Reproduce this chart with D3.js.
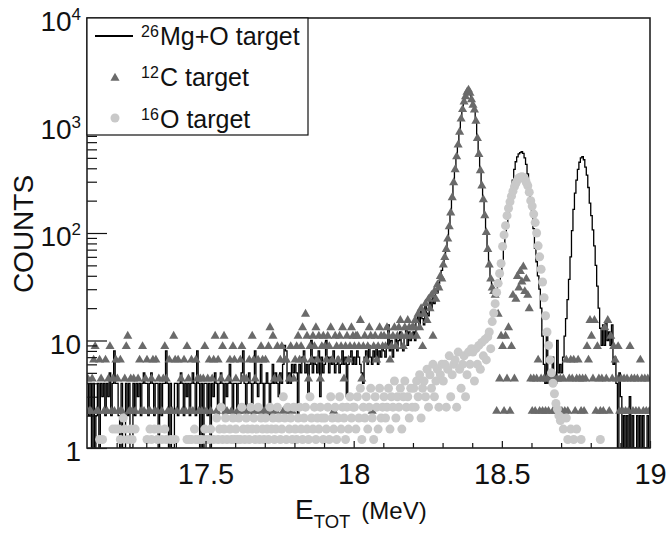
<!DOCTYPE html>
<html>
<head>
<meta charset="utf-8">
<script src="https://cdn.jsdelivr.net/npm/d3@7"></script>
<style>
  body { margin: 0; background: #fff; }
  text { font-family: "Liberation Sans", Arial, sans-serif; fill: #111; }
</style>
</head>
<body>
<div id="chart"></div>
<script>
// histogram binning (MeV)
var binStart = 17.10,
  binWidth = 0.005;

// 26Mg+O target, counts per bin (rows of 0.1 MeV)
var mgCounts = [
  4,2,4,1,4,1,2,4,1,4,3,4,2,4,3,5,2,4,8,4,
  4,2,1,4,1,1,4,2,4,1,1,4,2,4,3,4,2,4,5,4,
  4,2,4,5,4,2,4,4,1,4,2,4,4,8,4,1,4,1,1,4,
  4,2,4,5,4,2,4,3,4,2,4,5,4,2,8,4,1,4,1,4,
  4,2,4,1,4,3,5,4,2,4,5,4,2,4,3,4,6,4,2,4,
  4,2,4,4,5,8,4,2,4,5,4,2,4,8,4,3,4,6,4,2,
  4,5,4,2,4,6,4,5,4,3,5,4,6,9,8,4,5,4,6,5,
  6,5,2,6,5,7,8,5,6,3,6,10,5,7,6,5,8,3,7,5,
  6,10,7,5,7,6,8,5,6,7,5,6,8,6,7,3,6,7,8,6,
  7,6,8,7,6,5,4,7,8,6,9,7,6,8,7,9,6,8,7,9,
  8,7,9,14,8,10,7,9,11,8,10,12,9,8,11,13,9,12,10,11,
  12,10,15,18,13,20,16,14,22,18,17,24,20,26,22,30,28,34,38,45,
  50,60,71,89,115,155,214,295,390,513,660,870,1150,1410,1660,1860,2040,2140,2000,1740,
  1550,1400,1100,760,540,380,275,204,145,102,71,50,38,31,28,29,30,32,35,42,
  52,71,93,120,150,186,240,310,390,460,510,545,560,570,550,500,435,355,275,210,
  160,110,72,54,40,30,20,11,6,4,11,4,5,4,7,5,4,10,5,6,
  5,7,11,16,24,37,60,105,166,235,310,390,455,500,513,480,410,345,265,190,
  145,107,76,50,32,20,13,9,14,9,15,10,12,9,14,6,7,4,1,5,
  3,1,2,1,2,1,3,1,2,1,1,2,1,2,1,2,1,1,2,1
];

// 12C target, raw counts per bin, drawn scaled by c12Norm
var c12Norm = 2.2;
var c12Counts = [
  2,1,1,2,3,4,1,1,3,2,0,1,3,1,2,4,1,2,1,3,
  2,1,3,1,0,2,4,5,1,2,1,2,1,0,2,3,1,4,1,2,
  3,1,1,2,3,1,3,1,2,0,1,2,4,2,1,3,1,1,5,3,
  1,3,0,2,1,3,1,4,2,1,3,1,0,3,2,1,2,1,2,4,
  1,2,3,1,2,3,5,1,3,0,2,4,5,1,1,2,3,1,4,3,
  2,1,1,3,4,2,1,2,0,3,1,5,3,2,1,3,1,4,3,1,
  3,1,4,6,1,5,2,1,4,2,3,4,1,3,3,1,2,4,1,2,
  3,4,5,3,4,6,3,8,5,2,4,3,5,4,6,3,5,2,4,5,
  4,3,5,4,6,3,1,5,4,3,5,4,6,2,4,5,3,4,6,5,
  4,5,5,4,7,2,4,5,3,4,6,5,1,4,5,3,4,6,5,4,
  5,4,6,5,3,4,5,6,4,5,6,7,5,4,6,5,7,6,5,6,
  6,7,5,8,6,9,4,8,10,7,11,9,12,5,13,11,15,14,18,17,
  23,27,32,40,52,70,97,134,177,233,300,395,523,641,755,845,927,973,909,791,
  705,636,500,345,245,173,125,93,66,46,32,23,17,14,13,12,1,8,2,5,
  4,1,5,2,6,1,4,12,2,11,18,14,20,16,22,13,17,12,9,2,
  1,2,1,2,3,1,2,1,2,1,2,1,0,2,1,2,1,2,0,2,
  1,2,1,3,1,2,3,2,3,1,2,3,2,1,2,1,2,4,3,7,
  5,2,7,1,4,2,1,2,1,6,2,7,1,5,2,4,3,2,4,1,
  2,1,2,1,2,1,4,2,1,2,1,2,1,3,2,1,2,1,2,1
];

// 16O target, normalised counts per bin (0 = empty)
var o16Values = [
  0,0,0,0,0,0,0,0,1.2,0,1.2,0,0,0,0,0,0,1.5,0,1.5,
  0,1.5,1.2,0,1.9,1.5,0,1.2,0,1.5,1.2,0,1.5,0,0,0,0,0,0,0,
  1.2,0,1.5,1.2,0,1.5,0,1.2,1.5,0,1.2,0,1.5,1.2,0,0,1.2,0,0,1.2,
  0,0,0,0,0,0,0,1.2,0,1.2,1.2,0,1.5,1.2,0,1.2,0,1.2,0,1.5,
  1.2,0,1.2,1.5,0,1.2,0,1.9,1.2,1.5,2.4,1.2,1.5,1.9,1.2,0,1.5,1.2,1.9,1.2,
  1.5,1.2,1.9,1.2,2.4,1.5,1.2,1.9,1.5,1.2,2.4,1.5,1.9,1.2,1.5,2.4,1.2,1.9,1.5,1.2,
  1.9,1.5,1.2,2.4,1.5,1.9,1.2,1.5,2.4,1.9,1.2,1.5,3,1.9,1.2,2.4,1.5,1.9,1.2,2.4,
  1.5,1.2,1.9,2.4,1.5,1.2,1.9,2.4,1.5,1.2,3,1.9,1.5,2.4,1.2,1.9,1.5,2.4,1.9,1.2,
  1.9,1.5,2.4,1.2,3,1.9,1.5,2.4,1.2,1.9,3,1.5,2.4,1.9,1.2,2.4,1.5,3,1.9,2.4,
  2.4,1.5,3,1.9,3.6,1.2,2.4,1.9,3,1.5,2.4,3.6,1.9,1.2,3,2.4,1.5,3.6,1.9,2.4,
  3,1.9,2.4,3.6,1.5,3,2.4,4.2,1.9,3,2.4,3.6,1.5,3,4.2,2.4,3,1.9,3.6,2.4,
  3.6,2.4,4.2,3,4.8,1.9,3.6,4.2,3,5.4,2.4,4.8,3.6,6,3,4.2,5.4,2.4,4.8,6,
  4.2,6,2.4,5.4,7.2,3,4.8,6,6.6,2.4,7.8,5.4,3.6,6,7.2,3,4.8,7.8,6,8.4,
  7.8,4.2,8.4,6,9,5.4,9.6,7.2,10.2,6.6,10.8,12,8.4,15,18,22,28,34,42,52,
  75,96,117,145,170,195,220,245,270,290,310,325,330,334,330,315,295,275,240,200,
  178,150,125,100,76,60,46,35,25,17,12,9,6.6,5,4,3.2,2.6,2.3,2,1.8,
  1.9,1.5,0,1.9,1.2,0,1.5,0,1.2,0,1.5,0,0,1.2,0,0,0,0,0,0,
  0,0,0,0,0,0,1.2,0,0,0,0,0,0,0,0,0,0,0,0,0,
  0,0,0,0,0,0,0,0,0,0,0,0,0,0,0,0,0,0,0,0
];

var xTickLabels = [17.5, 18, 18.5, 19];
var xMinorTicks = [17.2, 17.3, 17.4, 17.6, 17.7, 17.8, 17.9, 18.1, 18.2, 18.3, 18.4, 18.6, 18.7, 18.8, 18.9];
var yDecades = [1, 10, 100, 1000, 10000];
var yLabelExp = ["", "", "2", "3", "4"];
var yLabelBase = ["1", "10", "10", "10", "10"];

var margin = {top: 18, right: 16, bottom: 85, left: 87},
  width = 666 - margin.left - margin.right,
  height = 533 - margin.top - margin.bottom;

var x = d3.scaleLinear()
  .domain([17.1, 19.0])
  .range([0, width]);
var y = d3.scaleLog()
  .domain([1, 10000])
  .range([height, 0]);

function binLo(i) { return binStart + i * binWidth; }
function binMid(i) { return binStart + (i + 0.5) * binWidth; }

var svg = d3.select("#chart").append("svg")
  .attr("width", 666)
  .attr("height", 533);

svg.append("defs").append("clipPath")
  .attr("id", "plotclip")
  .append("rect")
  .attr("width", width)
  .attr("height", height);

var g = svg.append("g")
  .attr("transform", "translate(" + margin.left + "," + margin.top + ")");

var plot = g.append("g").attr("clip-path", "url(#plotclip)");

// 26Mg+O histogram as steps
var histPts = mgCounts.map(function(v, i) { return [binLo(i), v]; });
histPts.push([binLo(mgCounts.length), mgCounts[mgCounts.length - 1]]);

var step = d3.line()
  .x(function(d) { return x(d[0]); })
  .y(function(d) { return y(Math.max(d[1], 1)); })
  .curve(d3.curveStepAfter);

plot.append("path")
  .datum(histPts)
  .attr("fill", "none")
  .attr("stroke", "#000")
  .attr("stroke-width", 1.3)
  .attr("d", step);

// 12C triangles
var c12Pts = [];
c12Counts.forEach(function(v, i) {
  if (v > 0) c12Pts.push([binMid(i), v * c12Norm]);
});

var tri = d3.symbol().type(d3.symbolTriangle).size(36);

plot.selectAll(".c12")
  .data(c12Pts)
  .enter()
  .append("path")
  .attr("class", "c12")
  .attr("d", tri)
  .attr("fill", "#6a6a6a")
  .attr("transform", function(d) {
    return "translate(" + x(d[0]) + "," + y(d[1]) + ")";
  });

// 16O circles
var o16Pts = [];
o16Values.forEach(function(v, i) {
  if (v >= 1) o16Pts.push([binMid(i), v]);
});

plot.selectAll(".o16")
  .data(o16Pts)
  .enter()
  .append("circle")
  .attr("class", "o16")
  .attr("r", 4.5)
  .attr("fill", "#c9c9c9")
  .attr("cx", function(d) { return x(d[0]); })
  .attr("cy", function(d) { return y(d[1]); });

// x axis, ticks inside
var xMajor = g.append("g")
  .attr("transform", "translate(0," + height + ")")
  .call(d3.axisBottom(x)
    .tickValues(xTickLabels)
    .tickSize(-7)
    .tickPadding(15)
    .tickFormat(d3.format("")));
xMajor.selectAll("text").style("font-size", "29px").attr("fill", "#111");

g.append("g")
  .attr("transform", "translate(0," + height + ")")
  .call(d3.axisBottom(x)
    .tickValues(xMinorTicks)
    .tickSize(-5)
    .tickFormat(""));

// y axis, log ticks inside
var yMinorTicks = [];
yDecades.slice(0, 4).forEach(function(dec) {
  for (var k = 2; k <= 9; k++) yMinorTicks.push(k * dec);
});

g.append("g")
  .call(d3.axisLeft(y)
    .tickValues(yDecades)
    .tickSize(-20)
    .tickFormat(""));

g.append("g")
  .call(d3.axisLeft(y)
    .tickValues(yMinorTicks)
    .tickSize(-10)
    .tickFormat(""));

g.selectAll(".domain").remove();
g.selectAll(".tick line").attr("stroke", "#111").attr("stroke-width", 1.2);

var ylab = g.selectAll(".ylab")
  .data(yDecades)
  .enter()
  .append("text")
  .attr("class", "ylab")
  .attr("text-anchor", "end")
  .attr("x", -6)
  .attr("y", function(d) { return y(d) + 13; })
  .style("font-size", "28px");

ylab.append("tspan")
  .text(function(d, i) { return yLabelBase[i]; });
ylab.append("tspan")
  .attr("dy", -11)
  .style("font-size", "17px")
  .text(function(d, i) { return yLabelExp[i]; });

// frame
g.append("rect")
  .attr("width", width)
  .attr("height", height)
  .attr("fill", "none")
  .attr("stroke", "#222")
  .attr("stroke-width", 1.6);

// axis titles
svg.append("text")
  .text("COUNTS")
  .attr("text-anchor", "middle")
  .attr("dominant-baseline", "central")
  .attr("transform", "translate(23,234) rotate(-90)")
  .style("font-size", "28px");

var xt = svg.append("text")
  .attr("x", 295)
  .attr("y", 519);
xt.append("tspan").style("font-size", "28px").text("E");
xt.append("tspan").style("font-size", "18.5px").attr("dy", 9).text("TOT");
xt.append("tspan").style("font-size", "24px").attr("dy", -9).attr("dx", 11).text("(MeV)");

// legend
var legend = svg.append("g")
  .attr("class", "legend");

legend.append("rect")
  .attr("x", margin.left)
  .attr("y", margin.top)
  .attr("width", 221)
  .attr("height", 117)
  .attr("fill", "#fff")
  .attr("stroke", "#111")
  .attr("stroke-width", 1.2);

var legendItems = [
  {sup: "26", label: "Mg+O target", base: 44.5},
  {sup: "12", label: "C target", base: 86},
  {sup: "16", label: "O target", base: 128}
];

legend.append("line")
  .attr("x1", 95).attr("x2", 133)
  .attr("y1", 36).attr("y2", 36)
  .attr("stroke", "#000")
  .attr("stroke-width", 2);

legend.append("path")
  .attr("d", tri)
  .attr("fill", "#6a6a6a")
  .attr("transform", "translate(115,78)");

legend.append("circle")
  .attr("cx", 115)
  .attr("cy", 118)
  .attr("r", 4.5)
  .attr("fill", "#c9c9c9");

legendItems.forEach(function(d) {
  legend.append("text")
    .attr("x", 141)
    .attr("y", d.base - 8)
    .style("font-size", "16px")
    .text(d.sup);
  legend.append("text")
    .attr("x", 160)
    .attr("y", d.base)
    .style("font-size", "25px")
    .text(d.label);
});
</script>
</body>
</html>
